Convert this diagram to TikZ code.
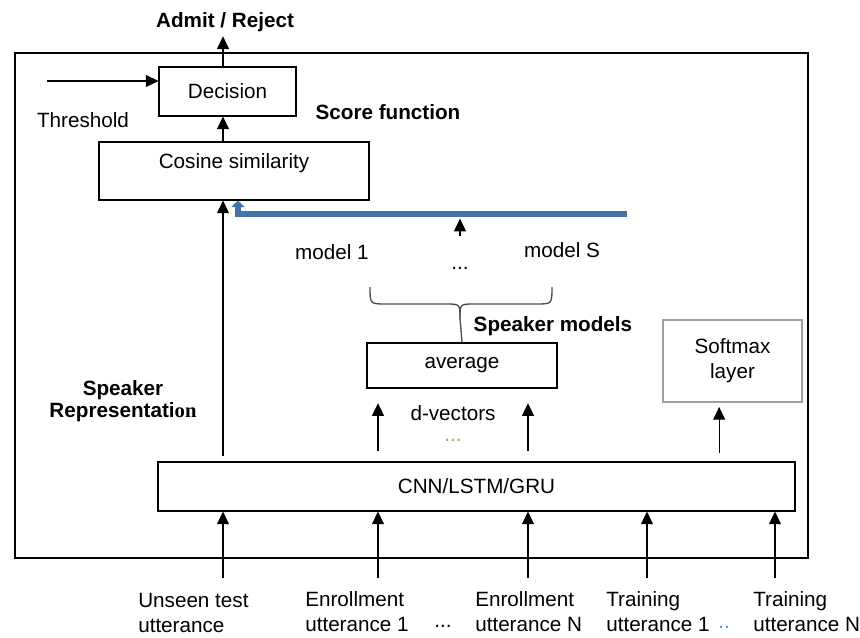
\documentclass[tikz,border=0pt]{standalone}
\usepackage{fontspec}
\setmainfont{Liberation Sans}
\newfontfamily\serifpart{Liberation Serif}
\usetikzlibrary{arrows.meta}
\definecolor{busblue}{RGB}{70,115,165}
\definecolor{dotgreen}{RGB}{120,190,80}
\definecolor{dotblue}{RGB}{80,140,220}
\begin{document}
\begin{tikzpicture}[x=0.75pt, y=-0.75pt,
    font=\fontsize{15.5}{18.75}\selectfont,
    box/.style={draw, line width=0.8pt, inner sep=0pt},
    title/.style={font=\fontsize{15.5}{16.5}\selectfont\bfseries},
    arr/.style={line width=0.8pt, -{Triangle[length=9.5pt,width=9pt]}},
    inlab/.style={anchor=north west, inner sep=0pt, align=left}]
  \useasboundingbox (0,0) rectangle (860,637);

  % outer frame
  \draw[line width=1pt] (15,53) rectangle (808,558);

  \node[title] (admit) at (225,22) {Admit / Reject};
  \node[box, minimum width=102.75pt, minimum height=36.75pt] (dec) at (227.5,91.5) {Decision};
  \node (thr) at (83,120) {Threshold};
  \node[title] (score) at (388,112) {Score function};
  \node[box, minimum width=202.5pt, minimum height=43.5pt, text depth=15pt] (cos) at (234,171) {Cosine similarity};

  \node (m1) at (332,252) {model 1};
  \node (mS) at (562,250) {model S};
  \node (mdots) at (460,268) {...};
  \node[title, anchor=west] (spk) at (469,326) {Speaker models};
  \node[box, minimum width=142.5pt, minimum height=33.75pt] (avg) at (462,365.5) {average};
  \node[inner sep=1pt] (dvec) at (453,413) {d-vectors};
  \node[text=dotgreen, inner sep=0pt, anchor=base] (dvdots) at (453,441) {...};

  \node[title, align=center] (rep) at (123,401) {Speaker\\Representati{\serifpart on}};
  \node[box, draw=gray!75, line width=1.5pt, minimum width=104.25pt, minimum height=61.5pt, align=center] (sm) at (732.5,361) {Softmax\\layer};
  \node[box, minimum width=477.75pt, minimum height=36.75pt] (cnn) at (476.5,486.5) {CNN/LSTM/GRU};

  \foreach \n/\x in {1/223,2/378,3/528,4/647,5/775}
    \coordinate (in\n) at (\x,578);
  \coordinate (thr0) at (47,81);
  \coordinate (busR) at (627,214);
  \coordinate (mtop) at (460,236);
  \coordinate (smin) at ([xshift=-10pt]sm.south);

  \node[inlab] (lab1) at (138,593) {Unseen test\\utterance};
  \node[inlab] (lab2) at (305,591) {Enrollment\\utterance 1};
  \node (ldots) at (443,626) {...};
  \node[inlab] (lab3) at (475,591) {Enrollment\\utterance N};
  \node[inlab] (lab4) at (606,591) {Training\\utterance 1};
  \node[text=dotblue] (tdots) at (724,627) {..};
  \node[inlab] (lab5) at (753,591) {Training\\utterance N};

  \foreach \n in {1,...,5}
    \draw[arr] (in\n) -- (in\n |- cnn.south);

  \draw[arr, shorten <=3.75pt] (in1 |- cnn.north) -- (in1 |- cos.south);
  \draw[arr] (in1 |- cos.north) -- (in1 |- dec.south);
  \draw[arr] (in1 |- dec.north) -- (in1 |- admit.south);
  \draw[arr] (thr0) -- (dec.west |- thr0);

  \draw[arr, shorten <=8pt, shorten >=11pt] (in2 |- cnn.north) -- (in2 |- avg.south);
  \draw[arr, shorten <=8pt, shorten >=11pt] (in3 |- cnn.north) -- (in3 |- avg.south);
  \draw[arr, shorten <=6pt, shorten >=3pt] (smin |- cnn.north) -- (smin);

  \draw[busblue, line width=4pt, -{Triangle[length=5pt,width=10pt]}] (busR) -| ([xshift=3pt]cos.south);
  \draw[arr, shorten >=3.5pt] (mtop) -- (mtop |- busR);

  \draw[gray!60!black, line width=1pt] (370,287) .. controls (370,304) .. (386,304) -- (446,304)
    .. controls (460,304) .. (460,318) -- (avg.north);
  \draw[gray!60!black, line width=1pt] (552,287) .. controls (552,304) .. (536,304) -- (474,304)
    .. controls (460,304) .. (460,318);
\end{tikzpicture}
\end{document}
